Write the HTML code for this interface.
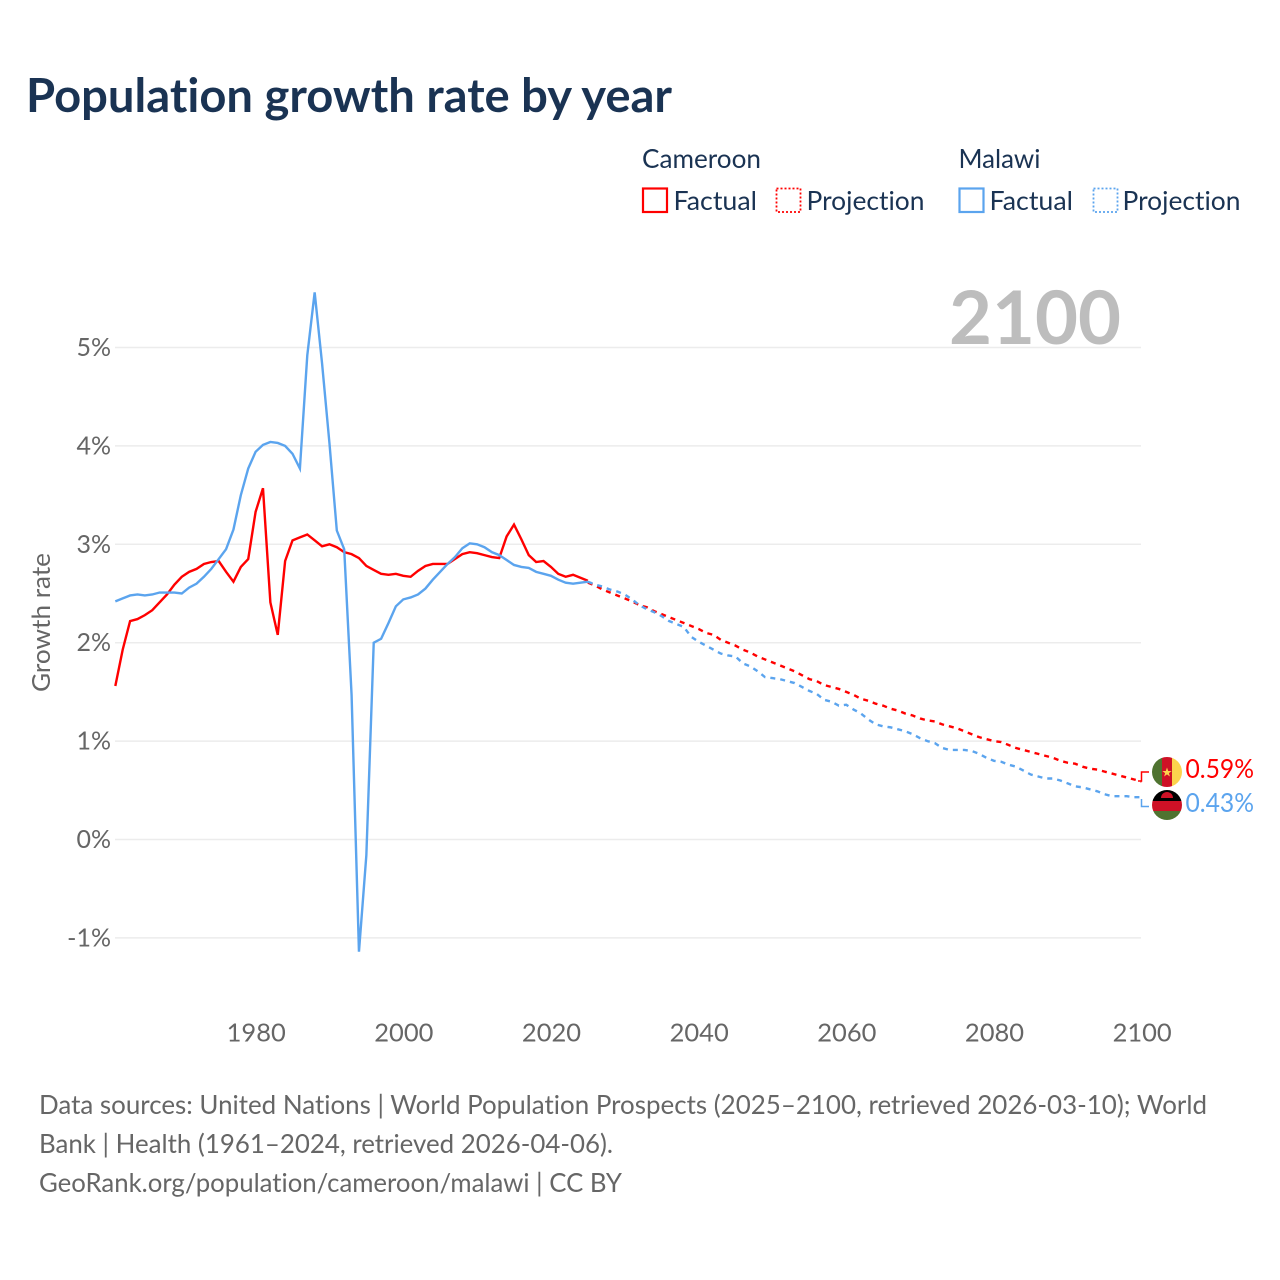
<!DOCTYPE html>
<html lang="en">
<head>
<meta charset="utf-8">
<title>Population growth rate by year</title>
<style>
html,body{margin:0;padding:0;background:#fff;width:1280px;height:1280px;overflow:hidden}
svg{display:block;font-family:"Lato","Carlito","Liberation Sans",sans-serif;font-variant-ligatures:none;font-feature-settings:"liga" 0,"clig" 0}
</style>
</head>
<body>
<svg id="chart" width="1280" height="1280" viewBox="0 0 1280 1280" xmlns="http://www.w3.org/2000/svg">
  <rect x="0" y="0" width="1280" height="1280" fill="#ffffff"/>
  <text x="26" y="112" font-size="47" font-weight="700" fill="#1a3353" textLength="646" lengthAdjust="spacingAndGlyphs">Population growth rate by year</text>

  <g font-size="26" fill="#1a3353">
    <text x="642" y="168" textLength="119" lengthAdjust="spacingAndGlyphs">Cameroon</text>
    <text x="958.500" y="168" textLength="82" lengthAdjust="spacingAndGlyphs">Malawi</text>
    <rect x="643" y="188.500" width="24" height="23.500" fill="none" stroke="#ff0000" stroke-width="2.200"/>
    <text x="673.500" y="210" textLength="83.500" lengthAdjust="spacingAndGlyphs">Factual</text>
    <rect x="776.500" y="188.500" width="24" height="23.500" fill="none" stroke="#ff0000" stroke-width="1.800" stroke-dasharray="2 2"/>
    <text x="806.500" y="210" textLength="118" lengthAdjust="spacingAndGlyphs">Projection</text>
    <rect x="959.500" y="188.500" width="24" height="23.500" fill="none" stroke="#5ba4ee" stroke-width="2.200"/>
    <text x="989.500" y="210" textLength="83.500" lengthAdjust="spacingAndGlyphs">Factual</text>
    <rect x="1093.500" y="188.500" width="24" height="23.500" fill="none" stroke="#5ba4ee" stroke-width="1.800" stroke-dasharray="2 2"/>
    <text x="1122.500" y="210" textLength="118" lengthAdjust="spacingAndGlyphs">Projection</text>
  </g>

  <g id="grid"></g>
  <text x="949" y="344" font-size="74" font-weight="700" fill="#bdbdbd" textLength="172" lengthAdjust="spacingAndGlyphs">2100</text>
  <g id="yticks"></g>
  <g id="xticks"></g>
  <text transform="translate(50,622.500) rotate(-90)" text-anchor="middle" font-size="25.500" fill="#666666" textLength="139" lengthAdjust="spacingAndGlyphs">Growth rate</text>
  <g id="series"></g>

  <path d="M1138 781 H1141.500 V772 H1149" fill="none" stroke="#ff0000" stroke-width="1.500"/>
  <path d="M1141.500 799 V806.500 H1149" fill="none" stroke="#5ba4ee" stroke-width="1.500"/>

  <defs>
    <clipPath id="clip-cm"><circle cx="1167" cy="772" r="15"/></clipPath>
    <clipPath id="clip-mw"><circle cx="1167" cy="805" r="15"/></clipPath>
  </defs>
  <g clip-path="url(#clip-cm)">
    <rect x="1152" y="757" width="10" height="30" fill="#4f7330"/>
    <rect x="1162" y="757" width="10" height="30" fill="#ce1126"/>
    <rect x="1172" y="757" width="10" height="30" fill="#fcd34d"/>
    <polygon points="1167,767.500 1168.200,771 1171.700,771 1168.900,773.100 1169.900,776.500 1167,774.400 1164.100,776.500 1165.100,773.100 1162.300,771 1165.800,771" fill="#fcd34d"/>
  </g>
  <g clip-path="url(#clip-mw)">
    <rect x="1152" y="790" width="30" height="11" fill="#000000"/>
    <rect x="1152" y="801" width="30" height="10" fill="#ce1126"/>
    <rect x="1152" y="811" width="30" height="9" fill="#4f7330"/>
    <path d="M1161 800 a6 6 0 0 1 12 0 Z" fill="#ce1126" transform="translate(0,-2)"/>
  </g>
  <text x="1185.500" y="778" font-size="26" fill="#ff0000" textLength="68.500" lengthAdjust="spacingAndGlyphs">0.59%</text>
  <text x="1185.500" y="812" font-size="26" fill="#5ba4ee" textLength="68.500" lengthAdjust="spacingAndGlyphs">0.43%</text>

  <g font-size="26" fill="#666666">
    <text x="39" y="1114" textLength="1168" lengthAdjust="spacingAndGlyphs">Data sources: United Nations | World Population Prospects (2025–2100, retrieved 2026-03-10); World</text>
    <text x="39" y="1153" textLength="574" lengthAdjust="spacingAndGlyphs">Bank | Health (1961–2024, retrieved 2026-04-06).</text>
    <text x="39" y="1192" textLength="583" lengthAdjust="spacingAndGlyphs">GeoRank.org/population/cameroon/malawi | CC BY</text>
  </g>
</svg>
<script>
var firstFactualYear = 1961;
var firstProjectionYear = 2025;
var xTickYears = [1980, 2000, 2020, 2040, 2060, 2080, 2100];
var yTickValues = [-1, 0, 1, 2, 3, 4, 5];
var cameroonFactual = [
  1.56,1.93,2.22,2.24,2.28,2.33,2.41,2.49,2.59,2.67,
  2.72,2.75,2.80,2.82,2.83,2.72,2.62,2.77,2.85,3.33,
  3.57,2.41,2.08,2.83,3.04,3.07,3.10,3.04,2.98,3.00,
  2.97,2.92,2.90,2.86,2.78,2.74,2.70,2.69,2.70,2.68,
  2.67,2.73,2.78,2.80,2.80,2.80,2.85,2.90,2.92,2.91,
  2.89,2.87,2.86,3.08,3.20,3.05,2.89,2.82,2.83,2.77,
  2.70,2.67,2.69,2.66,2.63
];
var malawiFactual = [
  2.42,2.45,2.48,2.49,2.48,2.49,2.51,2.51,2.51,2.50,
  2.56,2.60,2.67,2.75,2.85,2.95,3.15,3.50,3.77,3.94,
  4.01,4.04,4.03,4.00,3.92,3.77,4.92,5.56,4.84,4.03,
  3.14,2.95,1.47,-1.14,-0.16,2.00,2.04,2.20,2.37,2.44,
  2.46,2.49,2.55,2.64,2.72,2.80,2.87,2.96,3.01,3.00,
  2.97,2.92,2.89,2.84,2.79,2.77,2.76,2.72,2.70,2.68,
  2.64,2.61,2.60,2.61,2.62
];
var cameroonProjection = [
  2.61,2.58,2.54,2.51,2.48,2.45,
  2.42,2.38,2.36,2.32,2.29,2.26,2.23,2.20,2.17,2.14,
  2.10,2.08,2.03,2.00,1.97,1.93,1.90,1.86,1.83,1.80,
  1.77,1.74,1.71,1.67,1.63,1.61,1.57,1.55,1.53,1.50,
  1.47,1.43,1.41,1.38,1.36,1.33,1.31,1.28,1.26,1.23,
  1.21,1.20,1.17,1.15,1.13,1.10,1.07,1.04,1.02,1.00,
  0.99,0.96,0.93,0.91,0.89,0.87,0.85,0.83,0.80,0.78,
  0.77,0.74,0.72,0.71,0.69,0.67,0.65,0.63,0.61,0.59
];
var malawiProjection = [
  2.62,2.59,2.57,2.54,2.52,2.49,
  2.44,2.38,2.34,2.31,2.27,2.22,2.19,2.16,2.06,2.01,
  1.97,1.93,1.89,1.87,1.86,1.79,1.76,1.71,1.65,1.64,
  1.63,1.61,1.59,1.55,1.51,1.48,1.42,1.40,1.36,1.37,
  1.32,1.28,1.22,1.17,1.15,1.14,1.12,1.10,1.07,1.03,
  1.00,0.98,0.93,0.91,0.91,0.91,0.90,0.87,0.83,0.80,
  0.79,0.76,0.74,0.70,0.66,0.64,0.62,0.62,0.60,0.57,
  0.54,0.53,0.51,0.49,0.46,0.44,0.44,0.44,0.43,0.43
];

var NS = 'http://www.w3.org/2000/svg';
function xScale(year) { return 255.6 + (year - 1980) * 7.383; }
function yScale(value) { return 839.5 - value * 98.4; }
function linePath(values, startYear) {
  var d = '';
  for (var i = 0; i < values.length; i++) {
    d += (i ? 'L' : 'M') + xScale(startYear + i).toFixed(2) + ' ' + yScale(values[i]).toFixed(2);
  }
  return d;
}

var gridGroup = document.getElementById('grid');
var yGroup = document.getElementById('yticks');
yTickValues.forEach(function (v) {
  var gl = document.createElementNS(NS, 'line');
  
  
  gl.setAttribute('x1', 115);
  gl.setAttribute('x2', 1141);
  gl.setAttribute('y1', yScale(v));
  gl.setAttribute('y2', yScale(v));
  gl.setAttribute('stroke', '#ececec');
  gl.setAttribute('stroke-width', '1.500');
  gridGroup.appendChild(gl);
  var t = document.createElementNS(NS, 'text');
  
  
  t.setAttribute('x', 111);
  t.setAttribute('y', yScale(v) + 8.5);
  t.setAttribute('text-anchor', 'end');
  t.setAttribute('font-size', '25');
  t.setAttribute('fill', '#666666');
  t.textContent = v + '%';
  yGroup.appendChild(t);
});

var xGroup = document.getElementById('xticks');
xTickYears.forEach(function (yr) {
  var t = document.createElementNS(NS, 'text');
  
  
  t.setAttribute('x', xScale(yr) + 0.6);
  t.setAttribute('y', 1041.5);
  t.setAttribute('text-anchor', 'middle');
  t.setAttribute('font-size', '25.5');
  t.setAttribute('fill', '#666666');
  t.textContent = yr;
  xGroup.appendChild(t);
});

var seriesGroup = document.getElementById('series');

var p1 = document.createElementNS(NS, 'path');


p1.setAttribute('d', linePath(cameroonFactual, firstFactualYear));
p1.setAttribute('fill', 'none');
p1.setAttribute('stroke', '#ff0000');
p1.setAttribute('stroke-width', '2.4');
seriesGroup.appendChild(p1);

var p2 = document.createElementNS(NS, 'path');


p2.setAttribute('d', linePath(malawiFactual, firstFactualYear));
p2.setAttribute('fill', 'none');
p2.setAttribute('stroke', '#5ba4ee');
p2.setAttribute('stroke-width', '2.4');
seriesGroup.appendChild(p2);

var p3 = document.createElementNS(NS, 'path');


p3.setAttribute('d', linePath(cameroonProjection, firstProjectionYear));
p3.setAttribute('fill', 'none');
p3.setAttribute('stroke', '#ff0000');
p3.setAttribute('stroke-width', '2.4');
p3.setAttribute('stroke-dasharray', '5 5');
seriesGroup.appendChild(p3);

var p4 = document.createElementNS(NS, 'path');


p4.setAttribute('d', linePath(malawiProjection, firstProjectionYear));
p4.setAttribute('fill', 'none');
p4.setAttribute('stroke', '#5ba4ee');
p4.setAttribute('stroke-width', '2.4');
p4.setAttribute('stroke-dasharray', '5 5');
seriesGroup.appendChild(p4);
</script>
</body>
</html>
